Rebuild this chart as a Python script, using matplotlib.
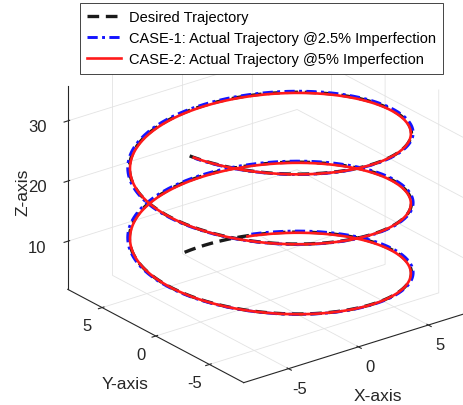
import numpy as np
import matplotlib
matplotlib.use("Agg")
import matplotlib.pyplot as plt
from matplotlib.lines import Line2D

plt.rcParams["font.family"] = ["Liberation Sans", "DejaVu Sans"]
plt.rcParams["axes.unicode_minus"] = False

# Helix parameters of the reference path: x = r sin t, y = r cos t, z = z0 + k t
radius = 8.0
climb_per_rad = 1.85
z_offset = 2.4
t_start = 0.0
t_end = 17.0

# Imperfect tracking runs: radius scale, phase lag and start/end of the recorded run
case1_radius_scale = 1.012
case1_phase_lag = 0.03
case1_t_range = [0.55, 16.95]
case2_radius_scale = 0.996
case2_phase_lag = -0.04
case2_t_range = [0.45, 16.9]

series_labels = ["Desired Trajectory",
                 "CASE-1: Actual Trajectory @2.5% Imperfection",
                 "CASE-2: Actual Trajectory @5% Imperfection"]
x_ticks = [-5, 0, 5]
y_ticks = [-5, 0, 5]
z_ticks = [10, 20, 30]


def helix(t0, t1, scale=1.0, lag=0.0):
    t = np.linspace(t0, t1, 900)
    r = radius * scale
    return r * np.sin(t - lag), r * np.cos(t - lag), z_offset + climb_per_rad * t


fig = plt.figure(figsize=(4.64, 4.06), dpi=100)
ax = fig.add_axes([0.071, -0.005, 1.0, 1.0], projection="3d")
ax.set_proj_type("ortho")
ax.view_init(elev=24, azim=-127.5)
ax.set_box_aspect((1, 1, 0.77), zoom=1.113)

xd, yd, zd = helix(t_start, t_end)
x1, y1, z1 = helix(*case1_t_range, case1_radius_scale, case1_phase_lag)
x2, y2, z2 = helix(*case2_t_range, case2_radius_scale, case2_phase_lag)

black_style = dict(color="#1a1a1a", lw=2.4, ls=(0, (3.5, 2)))
blue_style = dict(color="#1414ff", lw=2.1, ls=(0, (3.5, 1.5, 1, 1.5)))
red_style = dict(color="#ff1a1a", lw=1.9, ls="-")

ax.plot(xd, yd, zd, **black_style)
ax.plot(x1, y1, z1, **blue_style)
ax.plot(x2, y2, z2, **red_style)

ax.set_xlim(-8.2, 8.2)
ax.set_ylim(-8.2, 8.2)
ax.set_zlim(2.0, 35.8)
ax.set_xticks(x_ticks)
ax.set_yticks(y_ticks)
ax.set_zticks(z_ticks)

axis_color = "#262626"
grid_color = "#e3e3e3"
for axis in (ax.xaxis, ax.yaxis, ax.zaxis):
    axis.set_pane_color((1, 1, 1, 0))
    axis.pane.set_edgecolor((1, 1, 1, 0))
    axis.line.set_color(axis_color)
    axis.line.set_linewidth(0.8)
    axis._axinfo["grid"]["color"] = grid_color
    axis._axinfo["grid"]["linewidth"] = 0.6
    axis._axinfo["tick"]["color"] = axis_color
ax.tick_params(labelsize=12, colors="#262626")
ax.tick_params(axis="x", pad=2)
ax.tick_params(axis="y", pad=2)
for lab in ax.get_xticklabels() + ax.get_yticklabels():
    lab.set_va("center")

# axis titles set horizontally, with the z title turned upright
label_style = dict(fontsize=12.5, color="#262626", ha="center", va="center")
fig.text(378 / 464, 1 - 397 / 406, "X-axis", **label_style)
fig.text(125 / 464, 1 - 385 / 406, "Y-axis", **label_style)
fig.text(23 / 464, 1 - 192 / 406, "Z-axis", rotation=90, **label_style)

handles = [Line2D([], [], **black_style),
           Line2D([], [], **blue_style),
           Line2D([], [], **red_style)]
leg = fig.legend(handles, series_labels, loc="upper left",
                 bbox_to_anchor=(80 / 464, 1 - 4 / 406), fontsize=10.5,
                 frameon=True, fancybox=False, framealpha=1,
                 handlelength=2.3, handletextpad=0.55, borderpad=0.5,
                 labelspacing=0.48, borderaxespad=0)
leg.get_frame().set_edgecolor("#262626")
leg.get_frame().set_linewidth(0.6)

fig.savefig("out.png", dpi=100)
